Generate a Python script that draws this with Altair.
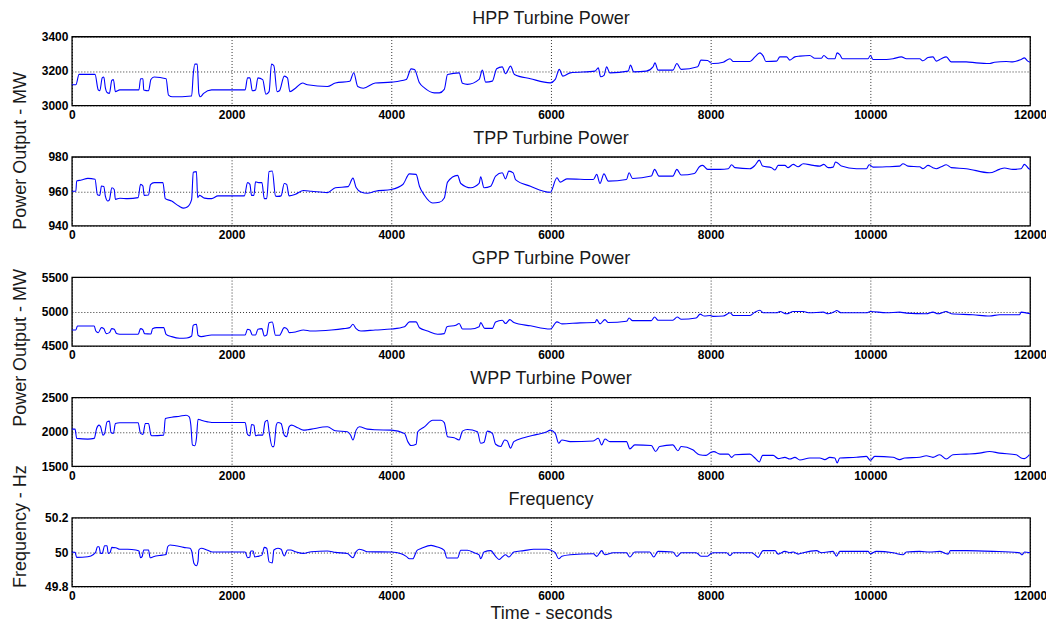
import altair as alt
import pandas as pd

x_ticks = [0, 2000, 4000, 6000, 8000, 10000, 12000]

hpp_t = [0, 50, 90, 290, 330, 350, 380, 400, 420, 440, 470, 500, 520, 545, 600, 840, 860, 890, 900, 960, 990, 1030,
         1180, 1210, 1260, 1500, 1520, 1540, 1570, 1590, 1610, 1650, 1750, 2170, 2200, 2230, 2260, 2300, 2330, 2390,
         2430, 2470, 2500, 2530, 2570, 2600, 2660, 2700, 2730, 2800, 2890, 2950, 3200, 3300, 3480, 3530, 3580, 3650,
         3800, 4000, 4187, 4249, 4290, 4353, 4415, 4539, 4602, 4664, 4705, 4850, 4892, 4954, 5100, 5141, 5182, 5266,
         5320, 5390, 5431, 5494, 5543, 5743, 5992, 6054, 6104, 6149, 6241, 6552, 6593, 6622, 6664, 6697, 6738, 6967,
         6996, 7037, 7195, 7278, 7303, 7341, 7527, 7577, 7631, 7838, 7879, 7962, 8000, 8033, 8158, 8242, 8284, 8492,
         8555, 8617, 8659, 8692, 8826, 8867, 8951, 8992, 9055, 9117, 9242, 9305, 9388, 9417, 9472, 9555, 9584, 9617,
         9651, 9971, 10000, 10034, 10201, 10284, 10388, 10451, 10618, 10659, 10722, 10784, 10826, 10888, 10951, 11013,
         11201, 11326, 11493, 11555, 11701, 11784, 11888, 11930, 11971, 12000]
hpp_v = [3120, 3120, 3180, 3180, 3090, 3085, 3160, 3165, 3100, 3075, 3070, 3145, 3150, 3080, 3090, 3090, 3155, 3155,
         3090, 3085, 3150, 3165, 3155, 3060, 3050, 3055, 3180, 3240, 3240, 3070, 3050, 3070, 3090, 3090, 3160, 3160,
         3085, 3090, 3160, 3150, 3065, 3080, 3240, 3230, 3080, 3085, 3170, 3160, 3080, 3100, 3130, 3120, 3110, 3130,
         3140, 3190, 3110, 3100, 3130, 3135, 3150, 3212, 3209, 3131, 3102, 3073, 3073, 3093, 3180, 3189, 3128, 3122,
         3151, 3205, 3135, 3141, 3213, 3224, 3184, 3228, 3180, 3155, 3131, 3151, 3209, 3170, 3189, 3199, 3218, 3166,
         3174, 3224, 3189, 3199, 3234, 3195, 3199, 3224, 3247, 3205, 3205, 3243, 3209, 3224, 3263, 3261, 3247, 3243,
         3251, 3271, 3255, 3255, 3282, 3305, 3286, 3255, 3257, 3282, 3282, 3263, 3282, 3286, 3290, 3274, 3274, 3290,
         3271, 3271, 3305, 3295, 3271, 3271, 3290, 3267, 3267, 3271, 3282, 3271, 3271, 3259, 3278, 3282, 3257, 3271,
         3282, 3253, 3253, 3247, 3243, 3251, 3255, 3253, 3267, 3276, 3257, 3251]

tpp_t = [0, 50, 60, 120, 200, 290, 320, 350, 370, 400, 420, 450, 470, 500, 530, 545, 600, 700, 830, 860, 890, 905, 960,
         985, 1030, 1140, 1170, 1250, 1340, 1400, 1450, 1500, 1520, 1560, 1575, 1600, 1660, 1750, 1830, 2160, 2200,
         2230, 2250, 2280, 2300, 2340, 2380, 2410, 2440, 2470, 2510, 2550, 2580, 2620, 2660, 2690, 2720, 2800, 2900,
         3000, 3200, 3300, 3460, 3520, 3560, 3620, 3700, 3800, 4000, 4145, 4228, 4311, 4353, 4415, 4519, 4602, 4664,
         4705, 4830, 4871, 4996, 5100, 5120, 5162, 5245, 5307, 5390, 5431, 5473, 5527, 5556, 5743, 5992, 6075, 6116,
         6199, 6531, 6573, 6614, 6664, 6718, 6946, 6979, 7021, 7257, 7298, 7353, 7527, 7577, 7631, 7797, 7859, 7900,
         7962, 8000, 8117, 8221, 8263, 8304, 8492, 8555, 8609, 8651, 8763, 8805, 8846, 8930, 8971, 9034, 9096, 9159,
         9284, 9367, 9417, 9472, 9534, 9563, 9597, 9638, 9826, 9951, 9985, 10034, 10201, 10368, 10409, 10472, 10618,
         10659, 10722, 10784, 10826, 10888, 10951, 11013, 11201, 11493, 11617, 11680, 11784, 11888, 11930, 11985, 12000]
tpp_v = [960, 960, 966, 966.5, 967.5, 967, 958, 957.6, 963, 962.7, 957, 954.3, 955, 962, 961, 955.3, 955.9, 955.7,
         956.3, 964, 963, 957.6, 957.8, 963.9, 965, 965, 955.7, 954.3, 951.4, 950.2, 951, 955.3, 971, 971.4, 956.3,
         957.6, 956, 955.7, 957.3, 957.3, 965, 964, 957.6, 957.6, 965.5, 965, 965, 955.7, 955.7, 971.4, 971.8, 957.3,
         957, 957.3, 964.5, 964, 957.3, 958.2, 960.4, 960, 959.2, 962, 962.7, 967.6, 962.2, 959.6, 958.8, 960, 961,
         963.9, 970.1, 969.8, 962.9, 957.7, 953.2, 953.6, 956.1, 965.3, 969.2, 964.5, 962, 964.5, 968.4, 962, 962.9,
         968.8, 970.7, 967.2, 971.7, 970.7, 966.8, 962.9, 959.4, 967.8, 965.3, 967.2, 966.8, 969.8, 964.5, 970.1,
         965.9, 966.8, 970.7, 967.4, 968.8, 972.7, 968.8, 968.8, 972.7, 969.4, 970.3, 974.2, 975, 972.7, 972.7, 972.7,
         973.1, 975.4, 973.7, 973.1, 975, 978.1, 974.6, 973.7, 972.3, 975, 975, 973.7, 975.6, 974.2, 976, 975, 974.6,
         975.6, 973.7, 974, 977, 976.2, 974.6, 973.1, 973.1, 975.4, 974, 974.2, 974.6, 976, 974.6, 974.2, 973.1, 975,
         973.7, 973.1, 974.2, 975.4, 973.7, 973.1, 970.7, 972.7, 973.5, 972.7, 973.1, 975.6, 973.1, 972.7]

gpp_t = [0, 50, 70, 280, 300, 330, 370, 400, 430, 470, 500, 530, 560, 600, 830, 860, 890, 910, 990, 1010, 1060, 1150,
         1180, 1250, 1350, 1440, 1500, 1520, 1560, 1580, 1620, 1750, 2170, 2200, 2230, 2260, 2300, 2330, 2380, 2410,
         2440, 2470, 2510, 2550, 2600, 2660, 2700, 2720, 2800, 2900, 3000, 3250, 3400, 3480, 3520, 3560, 3620, 3800,
         4000, 4166, 4228, 4311, 4353, 4456, 4581, 4664, 4697, 4809, 4850, 4892, 4996, 5100, 5120, 5170, 5266, 5307,
         5390, 5431, 5485, 5535, 5743, 5992, 6075, 6137, 6365, 6552, 6573, 6614, 6676, 6718, 6946, 6979, 7021, 7257,
         7298, 7341, 7527, 7581, 7631, 7818, 7868, 7921, 8000, 8033, 8158, 8242, 8284, 8492, 8555, 8617, 8659, 8826,
         8867, 8951, 9034, 9159, 9242, 9409, 9472, 9555, 9576, 9638, 9951, 10000, 10201, 10368, 10451, 10701, 10784,
         10847, 10951, 11013, 11284, 11493, 11617, 11868, 11888, 12000]
gpp_v = [4732, 4732, 4790, 4790, 4717, 4693, 4766, 4751, 4679, 4693, 4751, 4742, 4679, 4669, 4669, 4751, 4732, 4679,
         4674, 4751, 4766, 4766, 4669, 4635, 4611, 4616, 4645, 4800, 4814, 4655, 4635, 4659, 4659, 4742, 4732, 4659,
         4659, 4742, 4751, 4645, 4659, 4838, 4848, 4655, 4655, 4766, 4742, 4693, 4703, 4732, 4717, 4732, 4751, 4766,
         4814, 4751, 4717, 4732, 4745, 4778, 4849, 4849, 4764, 4717, 4670, 4679, 4778, 4802, 4825, 4745, 4745, 4778,
         4840, 4755, 4755, 4849, 4873, 4825, 4882, 4840, 4792, 4745, 4849, 4821, 4835, 4840, 4882, 4821, 4882, 4840,
         4858, 4906, 4868, 4868, 4920, 4873, 4873, 4920, 4887, 4906, 4962, 4934, 4943, 4929, 4934, 4981, 4943, 4943,
         4991, 5019, 4981, 4981, 5000, 4967, 5000, 5000, 4981, 4991, 4967, 5000, 5014, 4981, 4981, 5000, 4981, 4991,
         4976, 4967, 4991, 4967, 5000, 4967, 4953, 4934, 4953, 4953, 4991, 4967]

wpp_t = [0, 40, 60, 200, 280, 310, 340, 360, 390, 410, 440, 470, 490, 520, 545, 600, 830, 860, 890, 920, 960, 990, 1000,
         1150, 1170, 1250, 1350, 1430, 1470, 1490, 1510, 1540, 1560, 1580, 1620, 1700, 1750, 2170, 2200, 2230, 2250,
         2280, 2300, 2330, 2390, 2420, 2450, 2470, 2510, 2530, 2560, 2580, 2620, 2660, 2690, 2720, 2750, 2830, 2900,
         2950, 3000, 3200, 3300, 3450, 3490, 3520, 3560, 3600, 3700, 3800, 4000, 4166, 4207, 4249, 4311, 4332, 4415,
         4519, 4622, 4664, 4705, 4788, 4850, 4892, 4954, 5079, 5120, 5162, 5203, 5266, 5307, 5370, 5420, 5452, 5494,
         5535, 5660, 5826, 5950, 5992, 6054, 6096, 6137, 6241, 6531, 6593, 6635, 6676, 6738, 6946, 6988, 7050, 7257,
         7311, 7361, 7527, 7589, 7631, 7776, 7859, 7942, 8000, 8040, 8117, 8221, 8263, 8304, 8492, 8555, 8609, 8651,
         8784, 8846, 8930, 8992, 9055, 9117, 9242, 9367, 9430, 9492, 9555, 9584, 9617, 9826, 9951, 10000, 10055, 10284,
         10368, 10430, 10618, 10701, 10784, 10868, 10951, 11034, 11201, 11367, 11493, 11617, 11826, 11888, 11930, 11993]
wpp_v = [2038, 2038, 1904, 1894, 1904, 2048, 2096, 2072, 1952, 1976, 2144, 2154, 1990, 1976, 2120, 2130, 2130, 1976,
         1962, 2120, 2120, 1952, 1942, 1952, 2192, 2211, 2226, 2240, 2216, 2096, 1808, 1798, 1904, 2183, 2168, 2144,
         2135, 2135, 1962, 1942, 2106, 2096, 1942, 1952, 1952, 2144, 2168, 2000, 1784, 1784, 2096, 2135, 2120, 1952,
         1928, 2072, 2096, 2058, 2024, 2029, 2038, 2072, 2014, 2000, 1952, 1880, 2024, 2072, 2038, 2029, 2024, 1976,
         1857, 1800, 1819, 2000, 2071, 2167, 2167, 2133, 1929, 1914, 1881, 2010, 2033, 2000, 1833, 1848, 2010, 1976,
         1819, 1786, 1881, 1867, 1762, 1857, 1914, 1962, 2000, 2024, 1976, 1833, 1881, 1857, 1867, 1905, 1810, 1895,
         1857, 1857, 1752, 1810, 1800, 1714, 1786, 1810, 1724, 1786, 1738, 1667, 1657, 1700, 1712, 1676, 1676, 1629,
         1667, 1676, 1619, 1562, 1657, 1657, 1610, 1629, 1605, 1629, 1590, 1619, 1619, 1595, 1629, 1619, 1548, 1619,
         1629, 1643, 1586, 1643, 1629, 1595, 1619, 1629, 1652, 1629, 1667, 1605, 1667, 1676, 1690, 1714, 1690, 1667,
         1619, 1610, 1667]

freq_t = [0, 40, 60, 200, 270, 300, 320, 340, 360, 380, 410, 440, 455, 480, 500, 550, 600, 700, 800, 840, 860, 880, 900,
          960, 980, 1020, 1130, 1180, 1200, 1230, 1300, 1400, 1480, 1500, 1530, 1560, 1580, 1590, 1620, 1700, 1760, 2170,
          2200, 2230, 2240, 2270, 2290, 2330, 2380, 2410, 2440, 2470, 2510, 2530, 2580, 2620, 2660, 2700, 2740, 2800,
          2900, 3000, 3200, 3300, 3450, 3520, 3560, 3600, 3640, 3700, 4000, 4124, 4187, 4228, 4269, 4323, 4373, 4498,
          4581, 4664, 4697, 4830, 4871, 4954, 5037, 5100, 5120, 5162, 5245, 5307, 5349, 5390, 5431, 5473, 5535, 5660,
          5784, 5950, 5992, 6054, 6096, 6137, 6241, 6531, 6573, 6635, 6676, 6780, 6946, 6988, 7050, 7237, 7287, 7341,
          7527, 7577, 7631, 7818, 7879, 7962, 8000, 8033, 8200, 8242, 8284, 8513, 8555, 8596, 8638, 8659, 8805, 8846,
          8930, 8992, 9034, 9096, 9159, 9326, 9388, 9534, 9576, 9617, 9971, 10000, 10076, 10284, 10409, 10451, 10618,
          10743, 10868, 10972, 11003, 11201, 11534, 11868, 11901, 11930, 12000]
freq_v = [50.000, 49.998, 49.969, 49.973, 49.986, 50.002, 50.031, 50.031, 49.992, 49.992, 50.037, 50.037, 49.992,
          49.998, 50.027, 50.025, 50.016, 50.016, 50.012, 50.006, 49.967, 49.973, 50.012, 50.012, 49.967, 49.973,
          49.982, 49.986, 50.031, 50.041, 50.037, 50.027, 50.022, 50.006, 49.933, 49.920, 49.947, 50.012, 50.022,
          50.010, 50.000, 50.000, 49.967, 49.971, 50.006, 50.006, 49.971, 49.975, 49.982, 50.027, 50.022, 49.943,
          49.937, 50.012, 50.022, 50.016, 49.977, 50.012, 50.012, 50.002, 49.992, 50.002, 50.006, 49.998, 49.992,
          49.967, 50.002, 50.016, 50.012, 50.002, 50.000, 49.990, 49.975, 49.961, 49.961, 50.010, 50.020, 50.039,
          50.029, 50.010, 49.965, 49.965, 50.010, 50.010, 49.996, 49.984, 49.961, 50.000, 50.008, 49.975, 49.957,
          49.971, 49.984, 49.971, 50.000, 50.008, 50.016, 50.016, 50.012, 49.996, 49.961, 49.975, 49.984, 49.990,
          49.975, 50.008, 49.984, 49.996, 49.996, 49.971, 50.000, 50.000, 49.971, 50.004, 50.000, 49.975, 49.996,
          49.996, 49.976, 49.976, 49.990, 49.996, 49.996, 49.980, 49.996, 49.996, 49.984, 49.969, 50.000, 50.008,
          50.008, 49.988, 50.004, 49.996, 50.000, 49.988, 49.996, 50.008, 49.996, 50.004, 49.976, 50.004, 50.004,
          49.990, 50.004, 49.996, 49.984, 50.000, 50.004, 50.000, 50.004, 49.988, 50.008, 50.008, 50.004, 49.996,
          49.984, 50.000, 49.996]

panels = [
    ("HPP Turbine Power", hpp_t, hpp_v, [3000, 3400], [3000, 3200, 3400]),
    ("TPP Turbine Power", tpp_t, tpp_v, [940, 980], [940, 960, 980]),
    ("GPP Turbine Power", gpp_t, gpp_v, [4500, 5500], [4500, 5000, 5500]),
    ("WPP Turbine Power", wpp_t, wpp_v, [1500, 2500], [1500, 2000, 2500]),
    ("Frequency", freq_t, freq_v, [49.8, 50.2], [49.8, 50, 50.2]),
]
# y-axis titles hang downward from the panel they are attached to
y_titles = {0: ("Power Output - MW", 114), 1: ("Power Output - MW", 191), 3: ("Frequency - Hz", 129)}

W, H = 960, 69
charts = []
for i, (title, ts, vs, dom, yt) in enumerate(panels):
    df = pd.DataFrame({"t": ts, "v": vs})
    last = i == len(panels) - 1
    x_axis = alt.Axis(values=x_ticks, labelExpr="'' + datum.value", labelFlush=False, labelOverlap=False,
                      title="Time - seconds" if last else "", titleFontSize=18, titleFontWeight="normal",
                      titlePadding=3)
    if i in y_titles:
        yt_text, ty = y_titles[i]
        y_axis = alt.Axis(values=yt, labelExpr="'' + datum.value", title=yt_text, titleX=-51, titleY=ty,
                          titleAngle=270, titleAlign="center", titleBaseline="middle", titleFontSize=18,
                          titleFontWeight="normal")
    else:
        y_axis = alt.Axis(values=yt, labelExpr="'' + datum.value", title="")
    ch = alt.Chart(df).mark_line(color="#0000ff", strokeWidth=1.1, interpolate="monotone").encode(
        x=alt.X("t:Q", scale=alt.Scale(domain=[0, 12000], nice=False, zero=False), axis=x_axis),
        y=alt.Y("v:Q", scale=alt.Scale(domain=dom, nice=False, zero=False), axis=y_axis),
    ).properties(width=W, height=H, title=alt.TitleParams(title, fontSize=18, fontWeight="normal",
                                                          font="Liberation Sans", color="#1a1a1a",
                                                          offset=3, frame="group"))
    charts.append(ch)

chart = alt.vconcat(*charts, spacing=51.5, bounds="flush").properties(
    padding={"left": 3, "top": 0, "right": -2, "bottom": 0}
).configure_axis(
    labelFont="Liberation Sans", labelFontWeight="bold", labelFontSize=12, labelColor="black",
    titleFont="Liberation Sans", titleColor="#1a1a1a",
    grid=True, gridColor="black", gridDash=[1, 2], gridWidth=0.8, gridOpacity=1,
    domain=False, ticks=False, labelPadding=4,
).configure_view(stroke="black", strokeWidth=1.3)

chart.save("out.html", embed_options={"renderer": "svg", "actions": False})
